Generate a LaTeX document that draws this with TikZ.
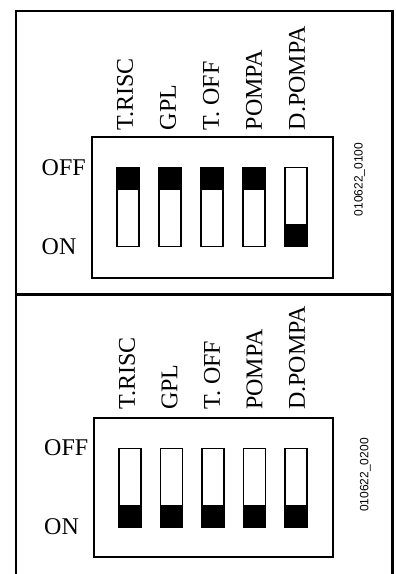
\documentclass[tikz,border=0pt]{standalone}
\usepackage{fontspec}
\setmainfont{Liberation Serif}
\setsansfont{Liberation Sans}
\usepackage{tikz}

\tikzset{
	frame/.style={line width=2.4pt},
	panel/.style={draw, line width=1.8pt, inner sep=0pt},
	slot/.style={draw, line width=1.4pt, minimum width=22pt, minimum height=79pt, inner sep=0pt},
	knob/.style={draw, fill=black, line width=1.4pt, minimum width=22pt, minimum height=22pt, inner sep=0pt},
	tag/.style={font=\fontsize{24}{26}\selectfont, inner sep=0pt},
	code/.style={font=\sffamily\fontsize{12}{14}\selectfont, rotate=90, inner sep=0pt}
}

\begin{document}
\begin{tikzpicture}[x=1pt, y=1pt]
	\useasboundingbox (0,0) rectangle (396,574);
	\draw[frame] (16,-10) |- (392.5,563) -- (392.5,-10);
	\draw[frame] (16,279.5) -- (392.5,279.5);
	
	\node[panel, minimum width=241pt, minimum height=141pt] (boxa) at (212.5,366.5) {};
	\node[tag, anchor=west] (offa) at (41.5,406.8) {OFF};
	\node[tag, anchor=west] (ona) at (41.5,327.5) {ON};
	\node[code] (codea) at (359.7,394.5) {010622\_0100};
	\foreach \name/\k [count=\i from 0] in {T.RISC/north, GPL/north, T. OFF/north, POMPA/north, D.POMPA/south} {
		\node[slot] (a\i) at (128+42*\i,367) {};
		\node[knob, anchor=\k] (ka\i) at (a\i.\k) {};
		\node[tag, rotate=90, anchor=west] (la\i) at (125+43*\i,443.5) {\name};
	}
	
	\node[panel, minimum width=239pt, minimum height=138.7pt] (boxb) at (213.5,86.35) {};
	\node[tag, anchor=west] (offb) at (44,126) {OFF};
	\node[tag, anchor=west] (onb) at (44,47) {ON};
	\node[code] (codeb) at (365.3,99) {010622\_0200};
	\foreach \name/\k [count=\i from 0] in {T.RISC/south, GPL/south, T. OFF/south, POMPA/south, D.POMPA/south} {
		\node[slot] (b\i) at (130+41.5*\i,86) {};
		\node[knob, anchor=\k] (kb\i) at (b\i.\k) {};
		\node[tag, rotate=90, anchor=west] (lb\i) at (127+42.5*\i,164) {\name};
	}
\end{tikzpicture}
\end{document}
